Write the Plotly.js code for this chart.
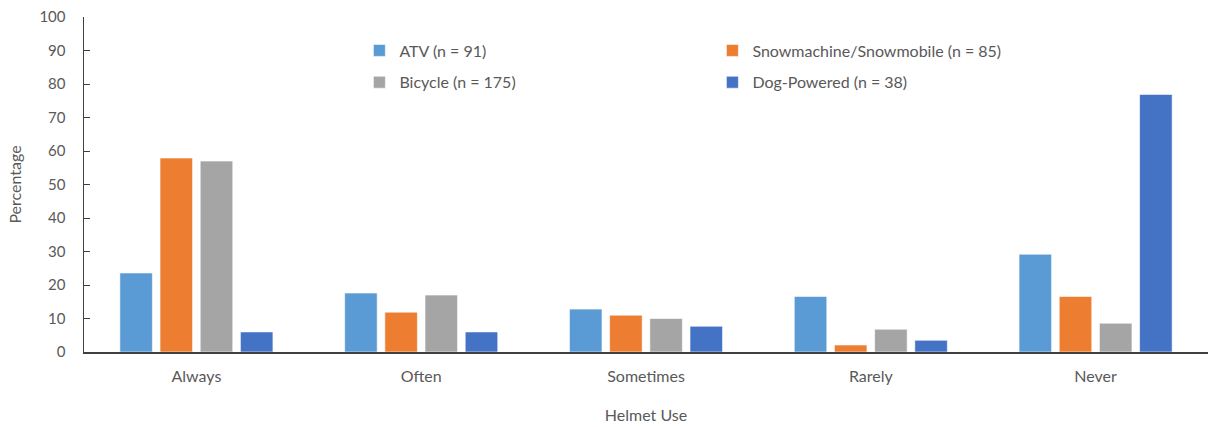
<!DOCTYPE html>
<html><head><meta charset="utf-8">
<script src="https://cdn.plot.ly/plotly-3.0.1.min.js"></script>
<style>html,body{margin:0;padding:0;background:#fff;}#chart{width:1209px;height:427px;}</style>
</head><body><div id="chart"></div>
<script>
const categories = ["Always", "Often", "Sometimes", "Rarely", "Never"];
const seriesNames = ["ATV (n = 91)", "Snowmachine/Snowmobile (n = 85)", "Bicycle (n = 175)", "Dog-Powered (n = 38)"];
const atv = [23.6, 17.6, 12.8, 16.6, 29.2];
const snow = [57.9, 11.9, 11.0, 2.1, 16.6];
const bicycle = [57.0, 17.0, 10.0, 6.8, 8.6];
const dog = [6.0, 6.0, 7.7, 3.5, 76.9];
const yTicks = [0, 10, 20, 30, 40, 50, 60, 70, 80, 90, 100];

const colors = ["#5B9BD5", "#ED7D31", "#A5A5A5", "#4472C4"];
const values = [atv, snow, bicycle, dog];
const legendIds = ["legend", "legend", "legend2", "legend2"];
const traces = values.map((v, i) => ({
  type: "bar", x: categories, y: v, name: seriesNames[i],
  marker: {color: colors[i], line: {color: "rgba(255,255,255,0.6)", width: 1}},
  legend: legendIds[i], hoverinfo: "none"
}));
const font = {family: "Lato, 'Open Sans', sans-serif", size: 16, color: "#595959"};
const tickFont = {family: "Lato, 'Open Sans', sans-serif", size: 15, color: "#595959"};
const legendCommon = {orientation: "h", xref: "paper", yref: "paper", xanchor: "left", yanchor: "middle",
  font: font, entrywidth: 308, entrywidthmode: "pixels", itemwidth: 30, bgcolor: "rgba(0,0,0,0)", traceorder: "normal"};
const layout = {
  width: 1209, height: 427,
  margin: {l: 84, r: 1, t: 17, b: 75},
  paper_bgcolor: "#fff", plot_bgcolor: "#fff",
  font: font,
  barmode: "group", bargap: 0.285, bargroupgap: 0.19,
  showlegend: true,
  legend: Object.assign({}, legendCommon, {x: 0.245, y: 0.9}),
  legend2: Object.assign({}, legendCommon, {x: 0.245, y: 0.805}),
  xaxis: {
    showline: true, linecolor: "#404040", linewidth: 1.5, ticks: "", showgrid: false,
    tickfont: font, ticklabelstandoff: 9,
    title: {text: "Helmet Use", font: font, standoff: 26}, automargin: false
  },
  yaxis: {
    range: [0, 100], tickvals: yTicks, ticktext: yTicks.map(String),
    showline: true, linecolor: "#404040", linewidth: 1.5, ticks: "inside", ticklen: 6, tickcolor: "#404040",
    showgrid: false, zeroline: false, tickfont: tickFont, ticklabelstandoff: 14,
    title: {text: "Percentage", font: font, standoff: 14}, automargin: false
  }
};
Plotly.newPlot("chart", traces, layout, {displayModeBar: false, staticPlot: true});
</script></body></html>
